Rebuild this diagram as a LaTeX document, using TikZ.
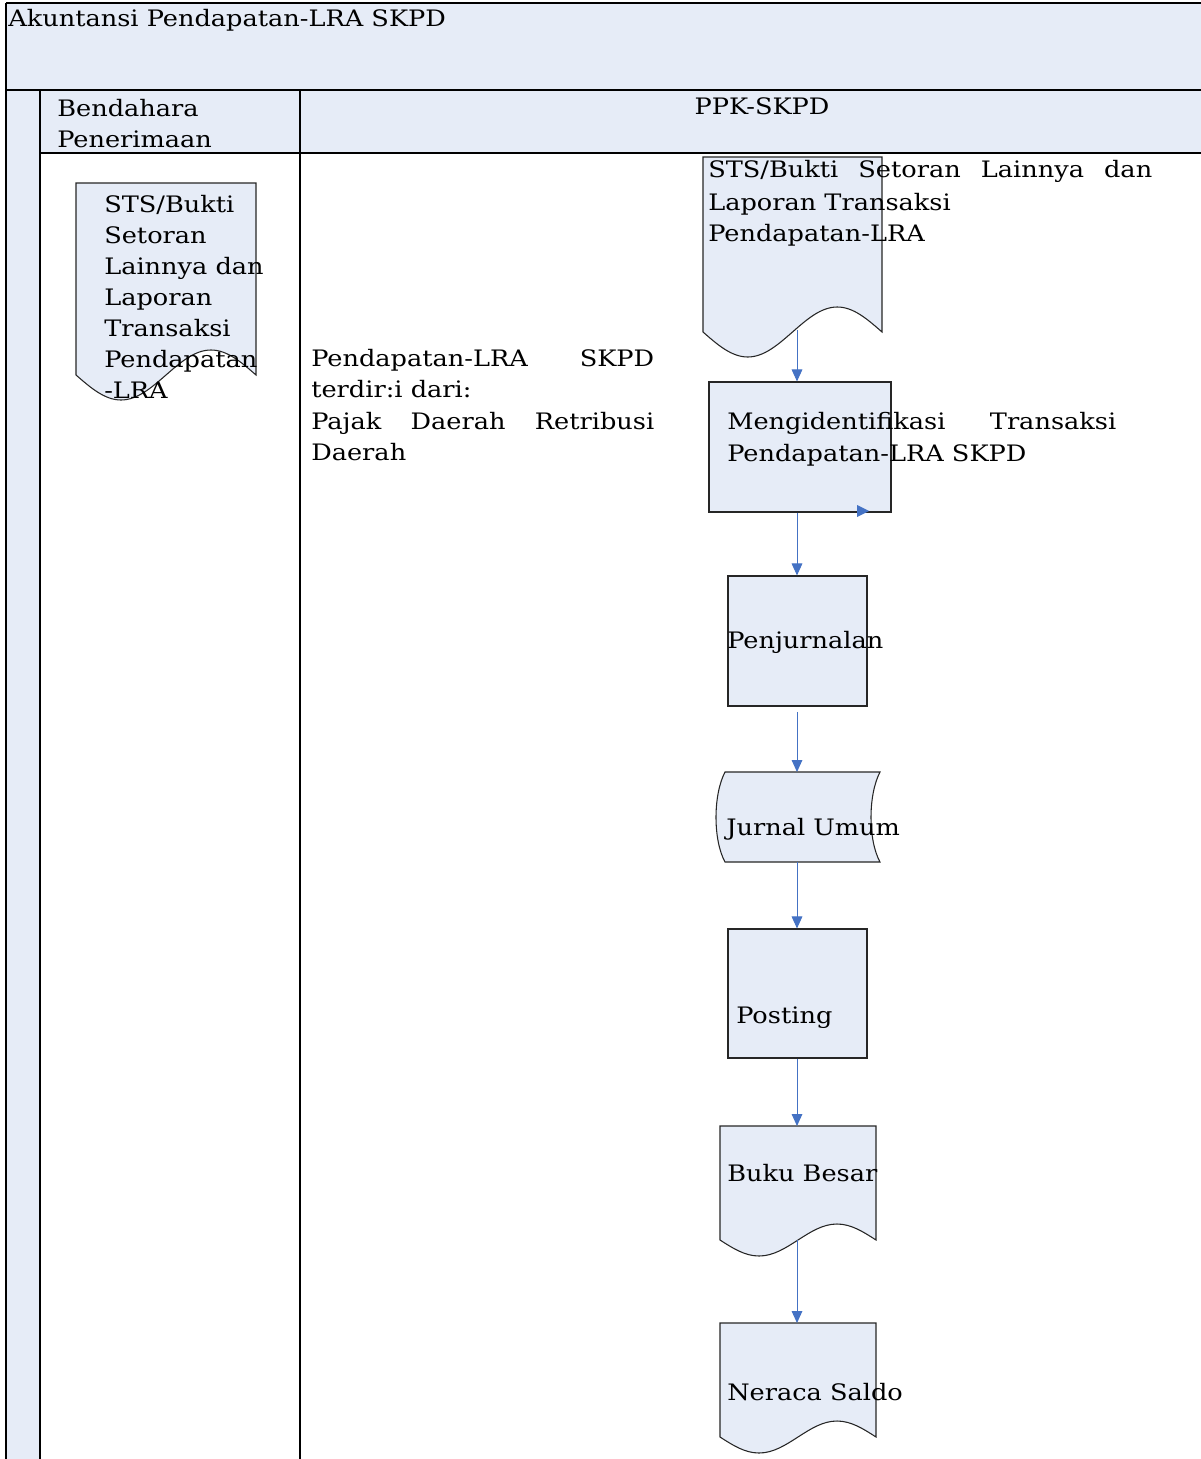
\documentclass[tikz,border=0pt]{standalone}
\usepackage{fontspec}
\setmainfont[FakeStretch=1.13]{DejaVu Serif}
\usetikzlibrary{arrows.meta}
\definecolor{paneblue}{HTML}{E6ECF7}
\definecolor{arrowblue}{HTML}{4472C4}
\tikzset{
  txt/.style={anchor=base west, inner sep=0pt, font=\fontsize{17pt}{23.25pt}\selectfont},
  gridline/.style={line width=1.4pt, black},
  shapebox/.style={draw=black!85, fill=paneblue, line width=0.8pt, inner sep=0pt},
  flow/.style={draw=arrowblue, line width=0.75pt, -{Triangle[length=9pt,width=8pt]}},
}
\begin{document}
\begin{tikzpicture}[x=0.75pt,y=-0.75pt]
\useasboundingbox (0,0) rectangle (1201,1459);
% ---------- swimlane table ----------
\fill[paneblue] (6,3) rectangle (1201,90);
\fill[paneblue] (6,90) rectangle (40,1459);
\fill[paneblue] (40,90) rectangle (1201,153);
\draw[line width=1pt] (6,3) -- (1201,3);
\draw[gridline] (6,3) -- (6,1459);
\draw[line width=2.2pt] (6,90) -- (1201,90);
\draw[gridline] (40,90) -- (40,1459);
\draw[gridline] (300,90) -- (300,1459);
\draw[gridline] (40,153) -- (1201,153);
\node[txt] (title) at (8,27) {Akuntansi Pendapatan-LRA SKPD};
\node[txt] (bp1) at (57,117) {Bendahara};
\node[txt] (bp2) at (57,147) {Penerimaan};
\node[txt, anchor=base] (ppk) at (762,115) {PPK-SKPD};
% ---------- document in Bendahara lane ----------
\draw[shapebox] (76,375) -- (76,183) -- (256,183) -- (256,375)
  sin (211,350) cos (166,375) sin (121,400) cos (76,375) -- cycle;
\node[txt] (d1a) at (104,212) {STS/Bukti};
\node[txt] (d1b) at (104,243) {Setoran};
\node[txt] (d1c) at (104,274) {Lainnya dan};
\node[txt] (d1d) at (104,305) {Laporan};
\node[txt] (d1e) at (104,336) {Transaksi};
\node[txt] (d1f) at (104,367) {Pendapatan};
\node[txt] (d1g) at (104,398) {-LRA};
% ---------- middle note ----------
\node[txt] (m1) at (311,366) {\makebox[257.25pt][s]{Pendapatan-LRA SKPD}};
\node[txt] (m2) at (311,397) {terdir:i dari:};
\node[txt] (m3) at (311,429) {\makebox[257.25pt][s]{Pajak Daerah Retribusi}};
\node[txt] (m4) at (311,460) {Daerah};
% ---------- document in PPK lane ----------
\draw[shapebox] (703,332) -- (703,157) -- (882,157) -- (882,332)
  sin (837.25,307) cos (792.5,332) sin (747.75,357) cos (703,332) -- cycle;
\coordinate (d2out) at (797,330);
\node[txt] (d2a) at (708,178) {\makebox[333pt][s]{STS/Bukti Setoran Lainnya dan}};
\node[txt] (d2b) at (708,210) {Laporan Transaksi};
\node[txt] (d2c) at (708,241) {Pendapatan-LRA};
% ---------- Mengidentifikasi ----------
\node[shapebox, minimum width=136.5pt, minimum height=97.5pt] (meng) at (800,447) {};
\node[txt] (meng1) at (727,429) {\makebox[291.75pt][s]{Mengidentifikasi Transaksi}};
\node[txt] (meng2) at (727,461) {Pendapatan-LRA SKPD};
\fill[arrowblue] (857,505) -- (869,511) -- (857,517) -- cycle;
% ---------- Penjurnalan ----------
\node[shapebox, minimum width=104.25pt, minimum height=97.5pt] (penj) at (797.5,641) {};
\node[txt] (penjt) at (727,648) {Penjurnalan};
% ---------- Jurnal Umum ----------
\draw[shapebox] (725,772) -- (880,772) .. controls (868,795) and (868,840) .. (880,862)
  -- (725,862) .. controls (713,840) and (713,795) .. (725,772) -- cycle;
\coordinate (juin) at (797,772);
\coordinate (juout) at (797,862);
\node[txt] (jut) at (726,835) {Jurnal Umum};
% ---------- Posting ----------
\node[shapebox, minimum width=104.25pt, minimum height=96.75pt] (post) at (797.5,993.5) {};
\node[txt] (postt) at (736,1023) {Posting};
% ---------- Buku Besar ----------
\draw[shapebox] (720,1240) -- (720,1126) -- (876,1126) -- (876,1240)
  sin (837,1224) cos (798,1240) sin (759,1256) cos (720,1240) -- cycle;
\coordinate (bbin) at (797,1126);
\coordinate (bbout) at (797,1240);
\node[txt] (bbt) at (727,1181) {Buku Besar};
% ---------- Neraca Saldo ----------
\draw[shapebox] (720,1437) -- (720,1323) -- (876,1323) -- (876,1437)
  sin (837,1421) cos (798,1437) sin (759,1453) cos (720,1437) -- cycle;
\coordinate (nsin) at (797,1323);
\node[txt] (nst) at (727,1400) {Neraca Saldo};
% ---------- connectors ----------
\draw[flow] (d2out) -- (d2out |- meng.north);
\draw[flow] (meng.south -| 797,0) -- (penj.north -| 797,0);
\draw[flow] ([yshift=-4pt]penj.south -| 797,0) -- (juin);
\draw[flow] (juout) -- (post.north -| 797,0);
\draw[flow] (post.south -| 797,0) -- (bbin);
\draw[flow] (bbout) -- (nsin);
\end{tikzpicture}
\end{document}
